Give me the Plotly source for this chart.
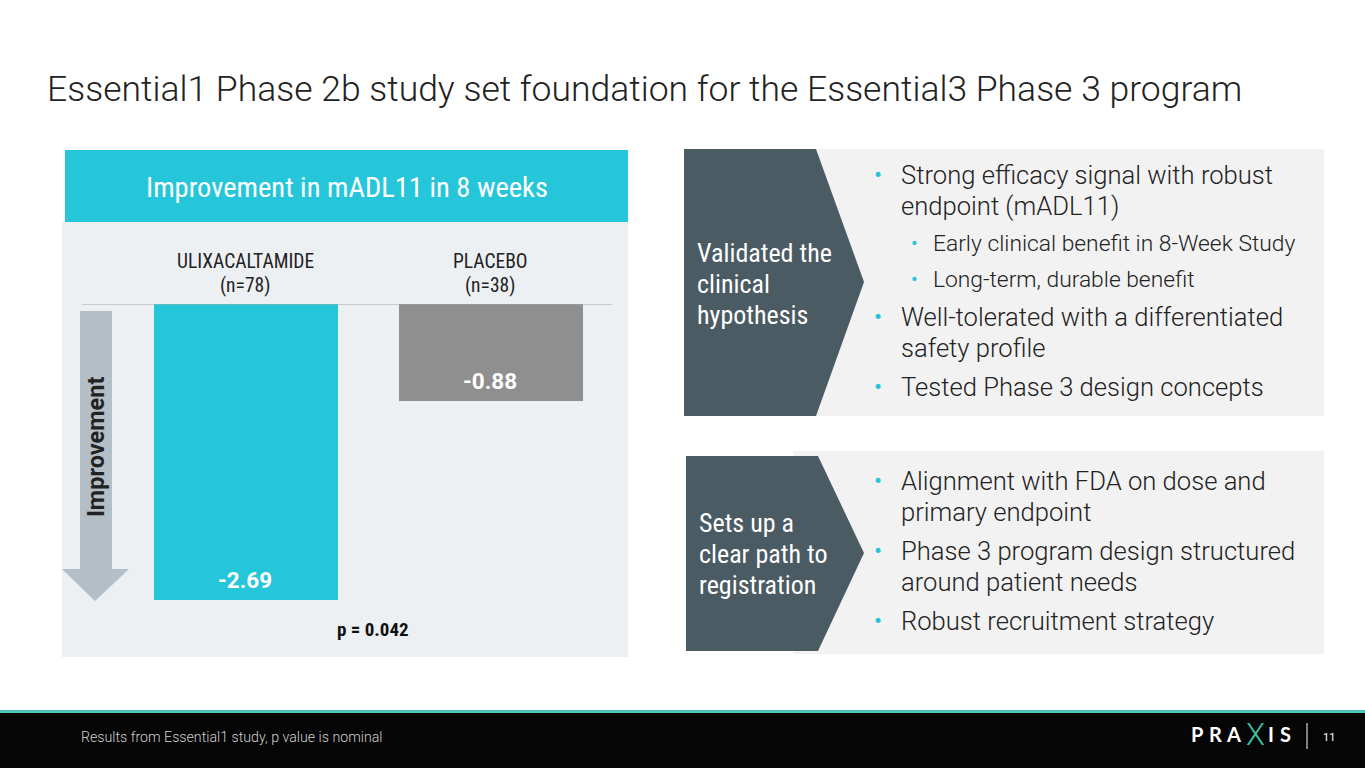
import plotly.graph_objects as go

W, H = 1365, 768

# ---- data ----
categories = ["ULIXACALTAMIDE", "PLACEBO"]
category_n = ["(n=78)", "(n=38)"]
values = [-2.69, -0.88]
bar_colors = ["#26C6DA", "#8F8F8F"]
p_value_text = "p = 0.042"

title_text = "Essential1 Phase 2b study set foundation for the Essential3 Phase 3 program"
chart_header = "Improvement in mADL11 in 8 weeks"
panel1_label = ["Validated the", "clinical", "hypothesis"]
panel1_bullets = [
    (0, ["Strong efficacy signal with robust", "endpoint (mADL11)"]),
    (1, ["Early clinical benefit in 8-Week Study"]),
    (1, ["Long-term, durable benefit"]),
    (0, ["Well-tolerated with a differentiated", "safety profile"]),
    (0, ["Tested Phase 3 design concepts"]),
]
panel2_label = ["Sets up a", "clear path to", "registration"]
panel2_bullets = [
    (0, ["Alignment with FDA on dose and", "primary endpoint"]),
    (0, ["Phase 3 program design structured", "around patient needs"]),
    (0, ["Robust recruitment strategy"]),
]
footer_note = "Results from Essential1 study, p value is nominal"
logo_letters = ["P", "R", "A", "X", "I", "S"]
page_number = "11"

# ---- helpers (pixel -> paper) ----
def X(px):
    return px / W

def Y(py):
    return 1 - py / H

def path(pts):
    return "M" + " L".join(f"{X(a):.5f},{Y(b):.5f}" for a, b in pts) + " Z"

TEAL = "#26C6DA"
SLATE = "#4B5B63"
COND = "Roboto Condensed, Liberation Sans Narrow, Arial Narrow, DejaVu Sans Condensed, Roboto, sans-serif"
ROBOTO = "Roboto, sans-serif"

fig = go.Figure()
fig.add_trace(go.Bar(
    x=categories, y=values,
    marker=dict(color=bar_colors, line=dict(width=0)),
    width=0.751,
    hoverinfo="skip",
))

shapes = []
# left panel backgrounds
shapes.append(dict(type="rect", xref="paper", yref="paper", x0=X(62), x1=X(628), y0=Y(657), y1=Y(222),
                   fillcolor="#EDF0F2", line=dict(width=0), layer="below"))
shapes.append(dict(type="rect", xref="paper", yref="paper", x0=X(65), x1=X(628), y0=Y(222), y1=Y(150),
                   fillcolor=TEAL, line=dict(width=0), layer="below"))
# baseline
shapes.append(dict(type="line", xref="paper", yref="y", x0=X(82), x1=X(612), y0=0, y1=0,
                   line=dict(color="#A6A6A6", width=1), layer="above"))
# improvement arrow
shapes.append(dict(type="path", xref="paper", yref="paper",
                   path=path([(80, 311), (112, 311), (112, 569), (129, 569), (95, 601), (62, 569), (80, 569)]),
                   fillcolor="#B4BEC6", line=dict(width=0), layer="below"))
# right panel 1
shapes.append(dict(type="rect", xref="paper", yref="paper", x0=X(684), x1=X(1324), y0=Y(416), y1=Y(149),
                   fillcolor="#F2F2F2", line=dict(width=0), layer="below"))
shapes.append(dict(type="path", xref="paper", yref="paper",
                   path=path([(684, 149), (816, 149), (864, 282), (816, 416), (684, 416)]),
                   fillcolor=SLATE, line=dict(width=0), layer="below"))
# right panel 2
shapes.append(dict(type="rect", xref="paper", yref="paper", x0=X(793), x1=X(1324), y0=Y(654), y1=Y(451),
                   fillcolor="#F2F2F2", line=dict(width=0), layer="below"))
shapes.append(dict(type="path", xref="paper", yref="paper",
                   path=path([(686, 456), (818, 456), (864, 553), (818, 651), (686, 651)]),
                   fillcolor=SLATE, line=dict(width=0), layer="below"))
# footer
shapes.append(dict(type="rect", xref="paper", yref="paper", x0=0, x1=1, y0=0, y1=Y(713),
                   fillcolor="#050505", line=dict(width=0), layer="below"))
shapes.append(dict(type="rect", xref="paper", yref="paper", x0=0, x1=1, y0=Y(713), y1=Y(710),
                   fillcolor="#4FC3BD", line=dict(width=0), layer="below"))
shapes.append(dict(type="line", xref="paper", yref="paper", x0=X(1307), x1=X(1307), y0=Y(723), y1=Y(749),
                   line=dict(color="#FFFFFF", width=1)))

ann = []
def txt(text, x, y, size, color="#222222", family=ROBOTO, weight=None, xanchor="left", yanchor="middle",
        xref="paper", yref="paper", textangle=0, yshift=0):
    font = dict(size=size, color=color, family=family)
    if weight is not None:
        font["weight"] = weight
    ann.append(dict(text=text, x=x if xref != "paper" else X(x), y=y if yref != "paper" else Y(y),
                    xref=xref, yref=yref, xanchor=xanchor, yanchor=yanchor, showarrow=False,
                    font=font, textangle=textangle, yshift=yshift))

# title
txt(title_text, 45, 89, 35.5, color="#222222", weight=300)
# chart header
txt(chart_header, 347, 187, 28.5, color="#FFFFFF", family=COND, weight=400, xanchor="center")
# category labels (positioned via the x axis)
for c, n in zip(categories, category_n):
    ann.append(dict(text=c, x=c, xref="x", y=Y(262), yref="paper", xanchor="center", yanchor="middle",
                    showarrow=False, font=dict(size=19.5, color="#222222", family=COND, weight=400)))
    ann.append(dict(text=n, x=c, xref="x", y=Y(285), yref="paper", xanchor="center", yanchor="middle",
                    showarrow=False, font=dict(size=19.5, color="#222222", family=COND, weight=400)))
# value labels (positioned by data value)
for c, v in zip(categories, values):
    ann.append(dict(text=f"{v:.2f}", x=c, xref="x", y=v, yref="y", xanchor="center", yanchor="middle",
                    yshift=20, showarrow=False,
                    font=dict(size=22.5, color="#FFFFFF", family=ROBOTO, weight="bold")))
# p value
txt(p_value_text, 373, 629, 19, color="#111111", family=COND, weight="bold", xanchor="center")
# arrow label
txt("Improvement", 96, 447, 23.5, color="#222222", family=ROBOTO, weight="bold", xanchor="center",
    textangle=-90)

# panel labels
for i, line in enumerate(panel1_label):
    txt(line, 695, 253 + 31 * i, 26, color="#FFFFFF", family=COND, weight=400)
for i, line in enumerate(panel2_label):
    txt(line, 697, 523 + 31 * i, 26, color="#FFFFFF", family=COND, weight=400)

def bullets(items, ys):
    k = 0
    for level, lines in items:
        dot_x = 878 if level == 0 else 915
        text_x = 899 if level == 0 else 931
        size = 25.6 if level == 0 else 22.8
        dot_size = 24 if level == 0 else 20
        for j, line in enumerate(lines):
            y = ys[k]
            if j == 0:
                txt("•", dot_x, y, dot_size, color=TEAL, xanchor="center")
            txt(line, text_x, y, size, color="#222222", weight=300)
            k += 1

bullets(panel1_bullets, [175, 206, 243, 279, 317, 348, 387])
bullets(panel2_bullets, [481, 512, 551, 582, 621])

# footer
txt(footer_note, 79, 737, 14.2, color="#D0D0D0", weight=300)
logo_x = [1197, 1215, 1233, 1255, 1271, 1285]
for letter, lx in zip(logo_letters, logo_x):
    if letter == "X":
        txt(letter, lx, 734, 31, color="#3EC1A6", family="Roboto, sans-serif", weight=300, xanchor="center")
    else:
        txt(letter, lx, 734, 20, color="#FFFFFF", family="Lato, Roboto, sans-serif", weight="bold",
            xanchor="center")
txt(page_number, 1329, 737, 11, color="#FFFFFF", xanchor="center")

fig.update_layout(
    width=W, height=H,
    margin=dict(l=0, r=0, t=0, b=0),
    paper_bgcolor="#FFFFFF", plot_bgcolor="rgba(0,0,0,0)",
    showlegend=False,
    bargap=0,
    xaxis=dict(domain=[X(122.5), X(612.5)], range=[-0.5, 1.5], visible=False, fixedrange=True),
    yaxis=dict(domain=[Y(620), Y(304)], range=[-316 / 110, 0], visible=False, fixedrange=True),
    shapes=shapes,
    annotations=ann,
)

fig.write_html("out.html", config={"displayModeBar": False},
               post_script="document.body.style.margin='0';document.body.style.overflow='hidden';")
